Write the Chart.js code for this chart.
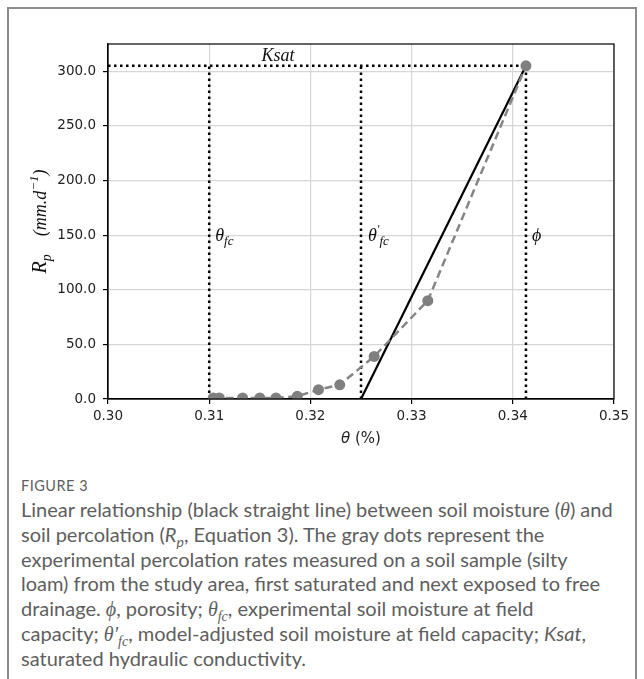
<!DOCTYPE html>
<html>
<head>
<meta charset="utf-8">
<script src="https://cdn.jsdelivr.net/npm/chart.js@4/dist/chart.umd.min.js"></script>
<style>
  html, body { margin: 0; padding: 0; background: #fff; }
  body { width: 644px; height: 679px; position: relative; overflow: hidden; }
  #frame {
    position: absolute; left: 7px; top: 7px; width: 630px; height: 720px;
    border: 2px solid #8c8c8c; border-bottom: none; box-sizing: border-box;
  }
  #plot { position: absolute; left: 0; top: 0; }
  #caption {
    position: absolute; left: 21px; top: 476px; color: #5e5e5e;
    font-family: Lato, "Open Sans", sans-serif; white-space: nowrap;
  }
  #caption .fig { font-size: 14.5px; letter-spacing: 0.5px; line-height: 20px; margin-bottom: 1px; }
  #caption .txt { font-size: 20px; line-height: 24.4px; }
  .m { font-family: "Liberation Serif", "DejaVu Serif", serif; font-style: italic; }
  .i { font-style: italic; }
  sub { font-size: 70%; line-height: 0; }
</style>
</head>
<body>
<div id="frame"></div>
<canvas id="plot" width="644" height="460"></canvas>
<div id="caption">
  <div class="fig">FIGURE 3</div>
  <div class="txt">
    Linear relationship (black straight line) between soil moisture (<span class="m">θ</span>) and<br>
    soil percolation (<span class="i">R<sub>p</sub></span>, Equation 3). The gray dots represent the<br>
    experimental percolation rates measured on a soil sample (silty<br>
    loam) from the study area, first saturated and next exposed to free<br>
    drainage. <span class="m">ϕ</span>, porosity; <span class="m">θ<sub>fc</sub></span>, experimental soil moisture at field<br>
    capacity; <span class="m">θ′<sub>fc</sub></span>, model-adjusted soil moisture at field capacity; <span class="i">Ksat</span>,<br>
    saturated hydraulic conductivity.
  </div>
</div>
<script>
// measured percolation (gray dots)
const thetaObs = [0.3104, 0.3110, 0.3133, 0.3150, 0.3166, 0.3187, 0.3208, 0.3229, 0.3263, 0.3316, 0.3413]
const rpObs = [1, 1, 1, 1, 1, 2.5, 8.5, 13, 39, 90, 305]

// model parameters
const thetaFc = 0.310
const thetaFcAdj = 0.325
const phi = 0.3413
const ksat = 305

const xTicks = [0.30, 0.31, 0.32, 0.33, 0.34, 0.35]
const yTicks = [0, 50, 100, 150, 200, 250, 300]

const serif = '"Liberation Serif", "DejaVu Serif", serif'

const dotted = { borderColor: '#000', borderWidth: 2.5, borderDash: [2.5, 3.5], pointRadius: 0, fill: false, order: 3 }

function drawRich(ctx, parts, x, y, align) {
  let w = 0
  parts.forEach(p => { ctx.font = p.f; w += ctx.measureText(p.t).width })
  let cx = align === 'center' ? x - w / 2 : x
  parts.forEach(p => {
    ctx.font = p.f
    ctx.fillText(p.t, cx, y + (p.dy || 0))
    cx += ctx.measureText(p.t).width
  })
}

const labels = {
  id: 'labels',
  afterDraw(chart) {
    const { ctx, chartArea: a, scales: { x, y } } = chart
    ctx.save()
    // frame
    ctx.strokeStyle = '#000'
    ctx.lineWidth = 1.2
    ctx.strokeRect(a.left, a.top, a.right - a.left, a.bottom - a.top)

    ctx.fillStyle = '#111'
    ctx.textBaseline = 'alphabetic'
    const it = s => 'italic ' + s + 'px ' + serif
    drawRich(ctx, [{ t: 'Ksat', f: it(18) }], x.getPixelForValue(0.3168), y.getPixelForValue(ksat) - 5, 'center')
    const ly = y.getPixelForValue(150) + 6
    drawRich(ctx, [{ t: 'θ', f: it(18) }, { t: 'fc', f: it(13), dy: 4 }], x.getPixelForValue(thetaFc) + 6, ly, 'left')
    drawRich(ctx, [{ t: 'θ', f: it(18) }, { t: '′', f: it(12), dy: -8 }, { t: 'fc', f: it(13), dy: 4 }], x.getPixelForValue(thetaFcAdj) + 7, ly, 'left')
    drawRich(ctx, [{ t: 'ϕ', f: it(18) }], x.getPixelForValue(phi) + 6, ly, 'left')

    // x title
    ctx.fillStyle = '#222'
    drawRich(ctx, [{ t: 'θ', f: 'italic 15px "DejaVu Sans"' }, { t: ' (%)', f: '15px "DejaVu Sans"' }], (a.left + a.right) / 2, 443, 'center')

    // y title
    ctx.translate(46, (a.top + a.bottom) / 2)
    ctx.rotate(-Math.PI / 2)
    ctx.fillStyle = '#111'
    drawRich(ctx, [
      { t: 'R', f: it(20) }, { t: 'p', f: it(14), dy: 5 },
      { t: '    (mm.d', f: it(18) }, { t: '−1', f: 'italic 13px ' + serif, dy: -8 }, { t: ')', f: it(18) }
    ], 0, 0, 'center')
    ctx.restore()
  }
}

new Chart(document.querySelector('#plot'), {
  type: 'line',
  data: {
    datasets: [
      {
        data: thetaObs.map((v, i) => ({ x: v, y: rpObs[i] })),
        borderColor: '#858585', borderWidth: 2.5, borderDash: [8, 4.5],
        pointRadius: 5.5, pointBackgroundColor: '#808080', pointBorderWidth: 0,
        clip: 0, order: 1,
      },
      {
        data: [{ x: thetaFcAdj, y: 0 }, { x: phi, y: ksat }],
        borderColor: '#000', borderWidth: 2.2, pointRadius: 0, order: 2,
      },
      { ...dotted, data: [{ x: xTicks[0], y: ksat }, { x: phi, y: ksat }] },
      { ...dotted, data: [{ x: thetaFc, y: 0 }, { x: thetaFc, y: ksat }] },
      { ...dotted, data: [{ x: thetaFcAdj, y: 0 }, { x: thetaFcAdj, y: ksat }] },
      { ...dotted, data: [{ x: phi, y: 0 }, { x: phi, y: ksat }] },
    ],
  },
  options: {
    responsive: false,
    animation: false,
    devicePixelRatio: 1,
    layout: { padding: { left: 0, top: 44, right: 30, bottom: 0 } },
    plugins: { legend: { display: false }, tooltip: { enabled: false } },
    scales: {
      x: {
        type: 'linear', min: 0.30, max: 0.35,
        afterFit: s => { s.height = 61 },
        afterBuildTicks: s => { s.ticks = xTicks.map(value => ({ value })) },
        ticks: { callback: v => v.toFixed(2), color: '#222', font: { family: 'DejaVu Sans', size: 13.5 }, padding: 4, maxRotation: 0 },
        grid: { color: '#d6d6d6', lineWidth: 1.2, tickColor: '#000', tickLength: 5 },
        border: { color: '#000', width: 1.2 },
      },
      y: {
        type: 'linear', min: 0, max: 325,
        afterFit: s => { s.width = 108 },
        afterBuildTicks: s => { s.ticks = yTicks.map(value => ({ value })) },
        ticks: { callback: v => v.toFixed(1), color: '#222', font: { family: 'DejaVu Sans', size: 13.5 }, padding: 7 },
        grid: { color: '#d6d6d6', lineWidth: 1.2, tickColor: '#000', tickLength: 5 },
        border: { color: '#000', width: 1.2 },
      },
    },
  },
  plugins: [labels],
})
</script>
</body>
</html>
